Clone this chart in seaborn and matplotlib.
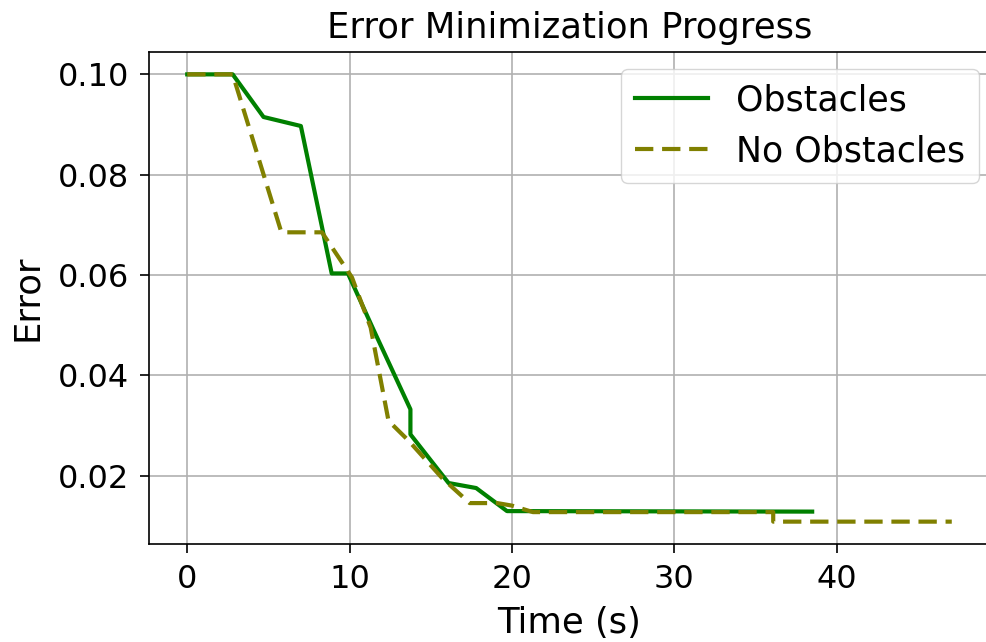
import matplotlib
matplotlib.use("Agg")
import matplotlib.pyplot as plt
import seaborn as sns
import pandas as pd

# Data
obs_time = [0, 2.8, 4.7, 7.0, 8.9, 9.9, 11.5, 13.75, 13.75, 16.1, 17.8, 19.7, 38.5]
obs_error = [0.100, 0.100, 0.0915, 0.0897, 0.0603, 0.0603, 0.0489, 0.0332, 0.0282,
             0.0185, 0.0175, 0.0129, 0.0128]
noobs_time = [0, 2.8, 5.8, 8.3, 10.15, 11.3, 12.4, 13.65, 15.7, 17.4, 19.1, 20.0,
              21.3, 36.1, 36.1, 47.1]
noobs_error = [0.100, 0.100, 0.0685, 0.0685, 0.0595, 0.0495, 0.0309, 0.0269, 0.0195,
               0.0145, 0.0145, 0.0140, 0.0127, 0.0127, 0.0108, 0.0108]
series_labels = ["Obstacles", "No Obstacles"]

df_obs = pd.DataFrame({"Time (s)": obs_time, "Error": obs_error})
df_no = pd.DataFrame({"Time (s)": noobs_time, "Error": noobs_error})

plt.rcParams["font.family"] = ["DejaVu Sans"]
fig = plt.figure(figsize=(9.87, 6.42), dpi=100)
ax = fig.add_axes([149 / 987, (642 - 544) / 642, (990 - 149) / 987, (544 - 52) / 642])

sns.lineplot(data=df_obs, x="Time (s)", y="Error", ax=ax, color="green",
             linewidth=3, estimator=None, sort=False, label=series_labels[0])
sns.lineplot(data=df_no, x="Time (s)", y="Error", ax=ax, color="olive",
             linewidth=3, estimator=None, sort=False, label=series_labels[1],
             dashes=False)
ax.lines[1].set_linestyle((0, (4.4, 2.1)))

ax.grid(True, color="#b0b0b0", linewidth=1.2)
ax.set_axisbelow(True)
ax.set_title("Error Minimization Progress", fontsize=25.5, pad=10)
ax.set_xlabel("Time (s)", fontsize=25.5, labelpad=8)
ax.set_ylabel("Error", fontsize=25.5, labelpad=10)
ax.tick_params(labelsize=23, length=6.5, width=1.2, pad=8)
for s in ax.spines.values():
    s.set_linewidth(1.2)

leg = ax.legend(loc="upper right", fontsize=25, handlelength=2.1,
                borderaxespad=0.5, bbox_to_anchor=(1.007, 1.0))
for h in leg.get_lines():
    h.set_linewidth(3)
leg.get_lines()[1].set_linestyle((0, (4.4, 2.1)))

fig.savefig("out.png", dpi=100)
